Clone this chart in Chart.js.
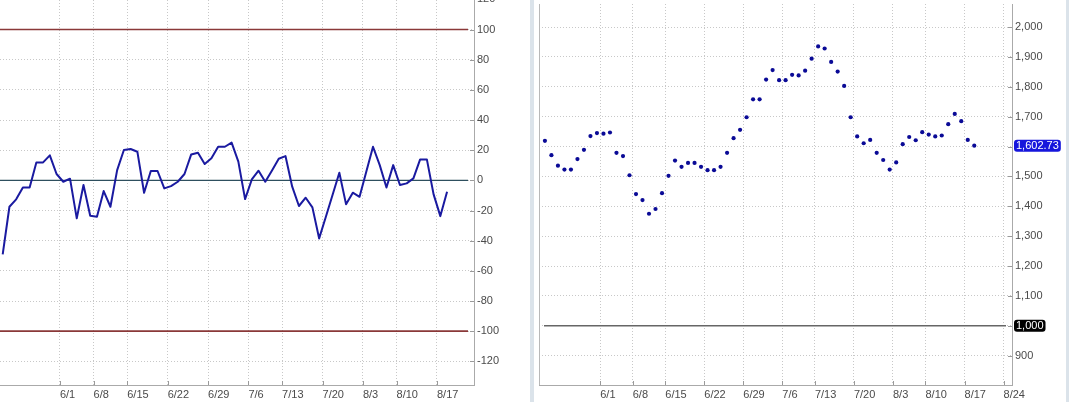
<!DOCTYPE html>
<html>
<head>
<meta charset="utf-8">
<script src="https://cdn.jsdelivr.net/npm/chart.js@4.4.1/dist/chart.umd.min.js"></script>
<style>
  html, body { margin: 0; padding: 0; background: #fff; overflow: hidden; }
  body { width: 1071px; height: 402px; position: relative; }
  .panel { position: absolute; top: 0; height: 402px; }
  #leftBox { left: 0; width: 520px; }
  #rightBox { left: 535px; width: 532px; }
  .sep { position: absolute; top: 0; height: 402px; background: #dbe3ea; }
</style>
</head>
<body>
<div class="sep" style="left:530px;width:4px"></div>
<div class="sep" style="left:1066px;width:3px"></div>
<div class="panel" id="leftBox"><canvas id="osc"></canvas></div>
<div class="panel" id="rightBox"><canvas id="idx"></canvas></div>

<script>
// week labels and the trading-day slot where each week starts
const tickDates = ['6/1', '6/8', '6/15', '6/22', '6/29', '7/6', '7/13', '7/20', '8/3', '8/10', '8/17', '8/24'];
const tickSlots = [8.5, 13.5, 18.5, 24.5, 30.5, 36.5, 41.5, 47.5, 53.5, 58.5, 64.5, 70.5];

// left panel: oscillator
const oscValues = [
  -49.1, -17.5, -12.6, -4.7, -4.7, 11.9, 11.9, 16.6, 4.2, -0.9,
  1.1, -25.2, -3.1, -23.5, -24.1, -7.1, -17.5, 6.8, 20.1, 20.8,
  19.0, -8.2, 6.2, 6.2, -5.3, -3.8, -0.9, 4.2, 17.2, 18.3,
  10.8, 14.6, 22.3, 22.3, 25.0, 12.4, -12.4, 0.6, 6.4, -0.9,
  6.6, 14.3, 16.1, -4.2, -17.0, -11.5, -17.9, -38.5, -24.1, -9.5,
  5.1, -15.9, -8.2, -10.9, 5.7, 22.3, 10.1, -4.7, 10.1, -3.1,
  -2.0, 1.3, 13.9, 13.9, -9.3, -23.7, -7.5
];
const oscTicks = [-120, -100, -80, -60, -40, -20, 0, 20, 40, 60, 80, 100, 120];
const oscLevels = [100, 0, -100];

// right panel: index level
const indexValues = [
  1619, 1571, 1536, 1523, 1523, 1558, 1589, 1635, 1645, 1643,
  1647, 1579, 1568, 1504, 1441, 1421, 1375, 1391, 1444, 1502,
  1553, 1532, 1545, 1545, 1532, 1521, 1521, 1532, 1579, 1628,
  1656, 1698, 1758, 1758, 1824, 1856, 1822, 1822, 1840, 1838,
  1854, 1894, 1935, 1928, 1883, 1851, 1803, 1698, 1634, 1611,
  1622, 1579, 1555, 1523, 1547, 1608, 1632, 1621, 1648, 1640,
  1634, 1637, 1675, 1709, 1685, 1622, 1602.73
];
const indexTicks = [900, 1000, 1100, 1200, 1300, 1400, 1500, 1600, 1700, 1800, 1900, 2000];
const baseLevel = 1000;

Chart.defaults.font.family = "'Liberation Sans', Arial, sans-serif";
Chart.defaults.font.size = 11;
Chart.defaults.color = '#4a4a4a';

const toPoints = vals => vals.map((v, i) => ({ x: i, y: v }));

// reference lines, small solid tick stubs, value badges
const panelDecor = {
  id: 'panelDecor',
  beforeDatasetsDraw(chart, args, opts) {
    const { ctx, chartArea: a, scales: { x, y } } = chart;
    ctx.save();
    (opts.levels || []).forEach(l => {
      const py = y.getPixelForValue(l.value);
      ctx.strokeStyle = l.color;
      ctx.lineWidth = l.width;
      ctx.beginPath();
      ctx.moveTo(a.left + opts.inset[0], py);
      ctx.lineTo(a.right - opts.inset[1], py);
      ctx.stroke();
    });
    ctx.strokeStyle = '#9a9a9a';
    ctx.lineWidth = 1;
    y.ticks.forEach(t => {
      const py = Math.round(y.getPixelForValue(t.value)) + 0.5;
      if (py < a.top) return;
      ctx.beginPath();
      ctx.moveTo(a.right - 4, py);
      ctx.lineTo(a.right, py);
      ctx.stroke();
    });
    x.ticks.forEach(t => {
      const px = Math.round(x.getPixelForValue(t.value)) + 0.5;
      ctx.beginPath();
      ctx.moveTo(px, a.bottom - 4);
      ctx.lineTo(px, a.bottom);
      ctx.stroke();
    });
    if (opts.leftBorder) {
      ctx.strokeStyle = '#b8b8b8';
      ctx.beginPath();
      ctx.moveTo(a.left + 0.5, a.top);
      ctx.lineTo(a.left + 0.5, a.bottom);
      ctx.stroke();
    }
    ctx.restore();
  },
  afterDraw(chart, args, opts) {
    const { ctx, chartArea: a, scales: { y } } = chart;
    ctx.save();
    ctx.font = "11px 'Liberation Sans', Arial, sans-serif";
    ctx.textBaseline = 'middle';
    (opts.badges || []).forEach(b => {
      const py = y.getPixelForValue(b.value);
      const w = ctx.measureText(b.text).width + 4;
      const h = 12;
      const x0 = a.right + 2;
      ctx.fillStyle = b.bg;
      ctx.beginPath();
      ctx.roundRect(x0, py - h / 2, w, h, 3);
      ctx.fill();
      ctx.fillStyle = '#fff';
      ctx.fillText(b.text, x0 + 2, py + 0.5);
    });
    ctx.restore();
  }
};

function dateAxis(min, max) {
  return {
    type: 'linear',
    min: min,
    max: max,
    afterBuildTicks: s => { s.ticks = tickSlots.filter(v => v <= max).map(v => ({ value: v })); },
    afterFit: s => { s.height = 17; s.paddingLeft = 0; s.paddingRight = 0; },
    ticks: {
      autoSkip: false,
      maxRotation: 0,
      align: 'start',
      padding: 3,
      callback: v => tickDates[tickSlots.indexOf(v)]
    },
    grid: { color: '#c8c8c8', drawTicks: false },
    border: { color: '#aaaaaa', dash: [1, 2] }
  };
}

function valueAxis(min, max, list, width, fmt) {
  return {
    position: 'right',
    min: min,
    max: max,
    afterBuildTicks: s => { s.ticks = list.map(v => ({ value: v })); },
    afterFit: s => { s.width = width; s.paddingTop = 0; s.paddingBottom = 0; },
    ticks: { padding: 3, callback: fmt },
    grid: { color: '#c8c8c8', drawTicks: false },
    border: { color: '#aaaaaa', dash: [1, 2] }
  };
}

new Chart(document.getElementById('osc'), {
  type: 'line',
  data: {
    datasets: [{
      data: toPoints(oscValues),
      borderColor: '#1a1aa0',
      borderWidth: 2,
      pointRadius: 0,
      borderJoinStyle: 'round',
      tension: 0
    }]
  },
  options: {
    responsive: true,
    maintainAspectRatio: false,
    animation: false,
    layout: { padding: 0 },
    plugins: {
      legend: { display: false },
      tooltip: { enabled: false },
      panelDecor: {
        inset: [0, 6],
        levels: oscLevels.map(v => ({
          value: v,
          color: v === 0 ? '#2e4f5e' : '#8a3838',
          width: v === 0 ? 1.3 : 1.6
        }))
      }
    },
    scales: {
      x: dateAxis(-0.4, 70.0),
      y: valueAxis(-135.7, 119.6, oscTicks, 46, v => String(v))
    }
  },
  plugins: [panelDecor]
});

const lastValue = indexValues[indexValues.length - 1];

new Chart(document.getElementById('idx'), {
  type: 'line',
  data: {
    datasets: [{
      data: toPoints(indexValues),
      showLine: false,
      pointRadius: 2.1,
      pointBorderWidth: 0,
      pointBackgroundColor: '#0a0a96'
    }]
  },
  options: {
    responsive: true,
    maintainAspectRatio: false,
    animation: false,
    layout: { padding: 0 },
    plugins: {
      legend: { display: false },
      tooltip: { enabled: false },
      panelDecor: {
        inset: [5, 6],
        leftBorder: true,
        levels: [{ value: baseLevel, color: '#666666', width: 1.5 }],
        badges: [
          { value: baseLevel, text: baseLevel.toLocaleString('en-US'), bg: '#000000' },
          { value: lastValue, text: lastValue.toLocaleString('en-US', { minimumFractionDigits: 2 }), bg: '#1616dc' }
        ]
      }
    },
    scales: {
      x: dateAxis(-0.91, 71.8),
      y: valueAxis(802, 2077, indexTicks, 55,
        v => (v === baseLevel || v === 1600) ? '' : v.toLocaleString('en-US'))
    }
  },
  plugins: [panelDecor]
});
</script>
</body>
</html>
